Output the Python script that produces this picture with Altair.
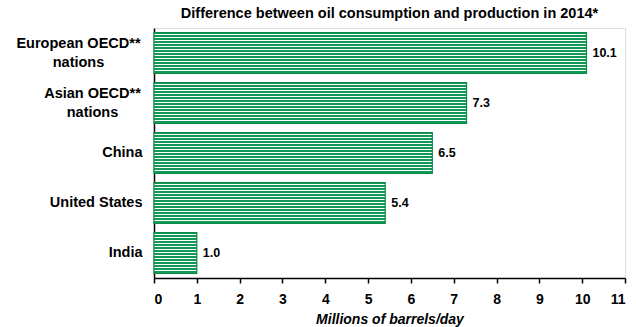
import altair as alt
import pandas as pd

categories = ["European OECD**\nnations", "Asian OECD**\nnations", "China", "United States", "India"]
values = [10.1, 7.3, 6.5, 5.4, 1.0]
value_labels = ["10.1", "7.3", "6.5", "5.4", "1.0"]

df = pd.DataFrame({"region": categories, "value": values, "label": value_labels})

GREEN = "#129856"
EDGE = "#0c8a4a"
FONT = "Liberation Sans"

# striped fill via a vertical gradient with hard stops
n = 14
stops = []
for i in range(n):
    a = i / n
    m = (i + 0.68) / n
    b = (i + 1) / n
    stops += [
        {"offset": a, "color": GREEN},
        {"offset": m, "color": GREEN},
        {"offset": m, "color": "#ffffff"},
        {"offset": b, "color": "#ffffff"},
    ]
stripes = {"gradient": "linear", "x1": 0, "y1": 0, "x2": 0, "y2": 1, "stops": stops}

y_enc = alt.Y(
    "region:N",
    sort=categories,
    title=None,
    scale=alt.Scale(paddingInner=0.18, paddingOuter=0.09),
    axis=alt.Axis(
        labelExpr="split(datum.label, '\\n')",
        labelFont=FONT,
        labelFontSize=14.5,
        labelFontWeight="bold",
        labelColor="#000000",
        labelLineHeight=19,
        ticks=False,
        domainColor="#000000",
        domainWidth=1.5,
        labelAlign={
            "condition": {"test": "indexof(datum.value, 'OECD') >= 0", "value": "center"},
            "value": "right",
        },
        labelOffset={
            "condition": {"test": "indexof(datum.value, 'OECD') >= 0", "value": -9},
            "value": 0,
        },
        labelPadding={
            "condition": [
                {"test": "indexof(datum.value, 'European') >= 0", "value": 76},
                {"test": "indexof(datum.value, 'Asian') >= 0", "value": 62},
            ],
            "value": 12,
        },
    ),
)

x_enc = alt.X(
    "value:Q",
    title="Millions of barrels/day",
    scale=alt.Scale(domain=[0, 11], nice=False),
    axis=alt.Axis(
        values=list(range(0, 12)),
        format="d",
        grid=False,
        tickSize=5,
        tickColor="#000000",
        tickWidth=1.5,
        domainColor="#000000",
        domainWidth=1.5,
        labelFont=FONT,
        labelFontSize=14,
        labelFontWeight="bold",
        labelColor="#000000",
        labelPadding=9,
        titleFont=FONT,
        titleFontSize=14,
        titleFontWeight="bold",
        titleFontStyle="italic",
        titleColor="#000000",
        titlePadding=6,
    ),
)

bars = alt.Chart(df).mark_bar(
    color=stripes, stroke=EDGE, strokeWidth=1.2
).encode(x=x_enc, y=y_enc)

text = alt.Chart(df).mark_text(
    align="left", baseline="middle", dx=6, font=FONT, fontSize=12.5, fontWeight="bold", color="#000000"
).encode(x="value:Q", y=alt.Y("region:N", sort=categories), text="label:N")

chart = (
    alt.layer(bars, text)
    .properties(
        width=471,
        height=250,
        title=alt.TitleParams(
            "Difference between oil consumption and production in 2014*",
            font=FONT,
            fontSize=14.5,
            fontWeight="bold",
            color="#000000",
            anchor="middle",
            offset=7,
        ),
        autosize=alt.AutoSizeParams(type="none"),
        padding={"left": 154, "top": 28, "right": 11, "bottom": 49},
    )
    .configure_view(stroke="#707070", strokeWidth=1.5)
    .configure(background="#ffffff")
)

chart.save("out.html", embed_options={"renderer": "svg", "actions": False})
